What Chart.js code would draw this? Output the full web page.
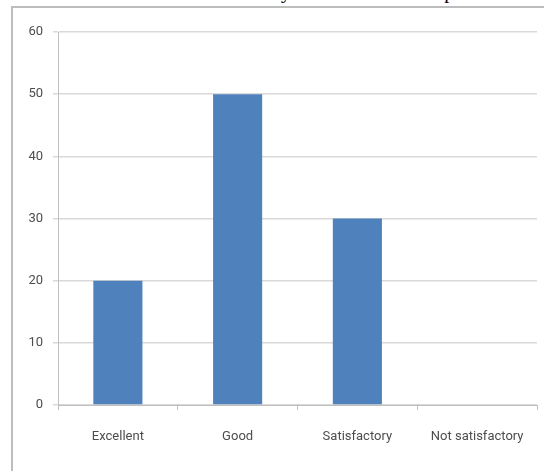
<!DOCTYPE html>
<html>
<head>
<meta charset="utf-8">
<script src="https://cdn.jsdelivr.net/npm/chart.js@4"></script>
<style>
  body { margin: 0; width: 544px; height: 471px; overflow: hidden; background: #fff; position: relative; }
  #cap { position: absolute; top: -19px; left: 242px; white-space: nowrap; font: 20px/20px "Liberation Serif", serif; color: #000; }
  #frame { position: absolute; left: 11px; top: 6px; width: 560px; height: 500px; border-left: 2px solid #bdbdbd; border-top: 2px solid #bdbdbd; background: #fff; }
  #wrap { position: absolute; left: 13px; top: 8px; width: 531px; height: 463px; }
</style>
</head>
<body>
<div id="cap">Analysis of the selection process</div>
<div id="frame"></div>
<div id="wrap"><canvas id="myChart"></canvas></div>
<script>
const categories = ['Excellent', 'Good', 'Satisfactory', 'Not satisfactory'];
const values = [20, 50, 30, 0];
const yTicks = [0, 10, 20, 30, 40, 50, 60];

const ctx = document.getElementById('myChart').getContext('2d');
const font = { family: '"Liberation Sans Narrow", "Roboto", sans-serif', size: 13 };

const data = {
  labels: categories,
  datasets: [{
    data: values,
    backgroundColor: '#4f81bd',
    categoryPercentage: 1,
    barPercentage: 0.41
  }]
};

const config = {
  type: 'bar',
  data,
  options: {
    responsive: true,
    maintainAspectRatio: false,
    animation: false,
    layout: { padding: { top: 24, right: 7, left: 0, bottom: 0 } },
    plugins: { legend: { display: false }, tooltip: { enabled: false } },
    scales: {
      x: {
        afterFit: (s) => { s.height = 66; },
        grid: { offset: true, drawOnChartArea: false, tickLength: 5, color: '#bfbfbf' },
        border: { color: '#bfbfbf' },
        ticks: { color: '#4d4d4d', font, padding: 19, maxRotation: 0 }
      },
      y: {
        min: 0,
        max: 60,
        afterFit: (s) => { s.width = 45; },
        afterBuildTicks: (s) => { s.ticks = yTicks.map(v => ({ value: v })); },
        grid: { color: '#d9d9d9', tickLength: 5, lineWidth: 1.5 },
        border: { color: '#bfbfbf' },
        ticks: { color: '#4d4d4d', font, padding: 10 }
      }
    }
  }
};

const myChart = new Chart(ctx, config);
</script>
</body>
</html>
